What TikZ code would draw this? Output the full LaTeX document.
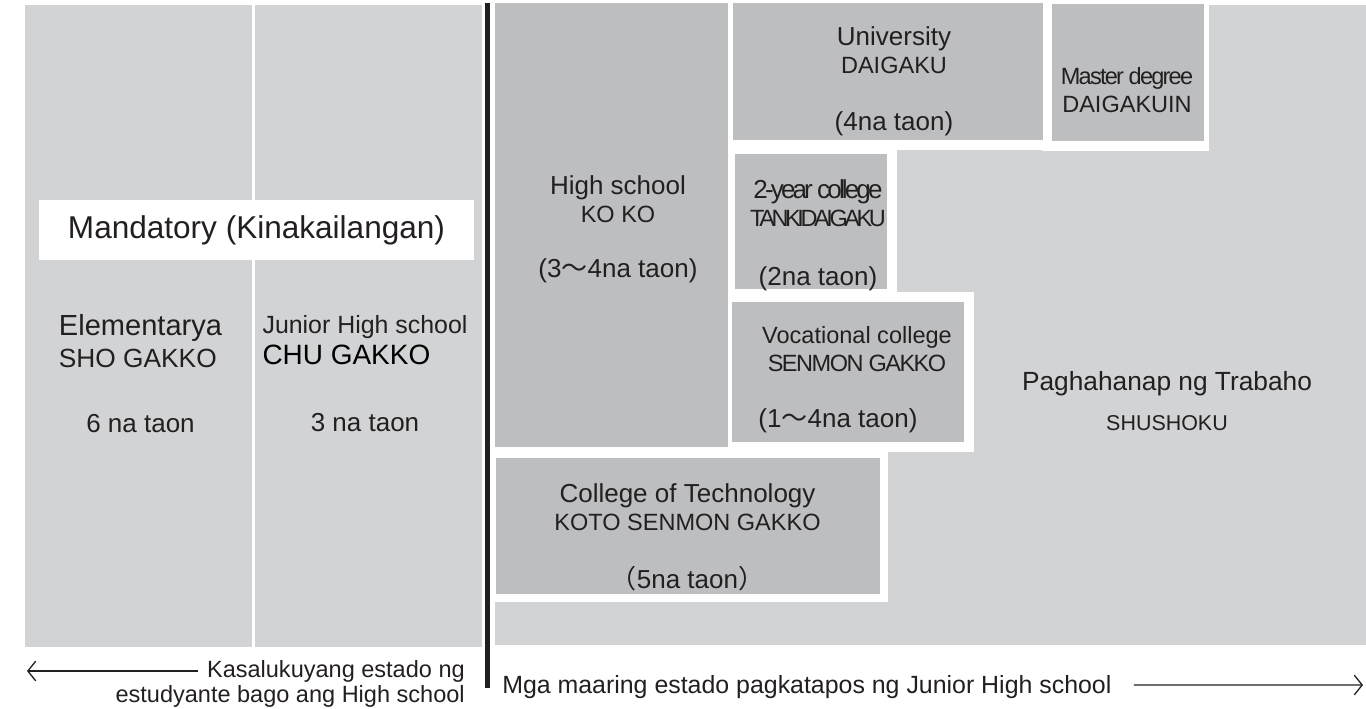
\documentclass[tikz,border=0pt]{standalone}
\usepackage{fontspec}
\setmainfont{Liberation Sans}
\newfontfamily\cjkfont{Noto Sans CJK JP}
\usepackage{tikz}
\usetikzlibrary{arrows.meta,backgrounds}
\tikzset{>={Straight Barb[length=2mm,width=5mm]}}

\definecolor{paleGray}{RGB}{209,211,212}
\definecolor{boxGray}{RGB}{188,190,192}
\definecolor{inkGray}{RGB}{35,31,32}

\newcommand{\fsz}[1]{\fontsize{#1}{20.2pt}\selectfont}
\newcommand{\tight}[1]{\addfontfeatures{LetterSpace=#1}}
\newcommand{\wave}{{\cjkfont ～}}

\tikzset{
  pane/.style={shape=rectangle,fill=paleGray,inner sep=0pt},
  stage/.style={shape=rectangle,fill=boxGray,inner sep=0pt},
  caption/.style={shape=rectangle,inner sep=0pt,align=center,text=inkGray,font=\fsz{18.8pt}},
}

\begin{document}
\begin{tikzpicture}
\useasboundingbox (0in,0in) rectangle (13.66in,-7.09in);

\path (1.385in,-3.26in) node (elem) [pane,minimum width=2.27in,minimum height=6.42in]{};

\path (3.685in,-3.26in) node (jhs) [pane,minimum width=2.27in,minimum height=6.42in]{};

\path (2.565in,-2.30in) node (mand) [shape=rectangle,fill=white,inner sep=0pt,minimum width=4.35in,minimum height=0.6in,text=inkGray,font=\fsz{22.8pt}]{Mandatory (Kinakailangan)};

\path (1.405in,-3.74in) node (elem-t) [caption]{{\fsz{21pt}Elementarya}\\[2.9pt]{\fsz{19pt}\rlap{SHO GAKKO}\phantom{\fsz{21pt}Elementarya}}\\[26.8pt]6 na taon};

\path (3.65in,-3.74in) node (jhs-t) [caption]{{\fsz{18pt}Junior High school}\\[2.2pt]{\fsz{20.2pt}\color{black}\rlap{CHU GAKKO}\phantom{\fsz{18pt}Junior High school}}\\[28.2pt]3 na taon};

\path (6.115in,-2.25in) node (hs) [stage,minimum width=2.33in,minimum height=4.44in]{};

\path (8.88in,-0.715in) node (univ) [stage,minimum width=3.10in,minimum height=1.37in]{};

\path (11.28in,-0.725in) node (grad) [stage,minimum width=1.52in,minimum height=1.37in]{};

\path (8.11in,-2.215in) node (tanki) [stage,minimum width=1.52in,minimum height=1.35in]{};

\path (8.48in,-3.72in) node (senmon) [stage,minimum width=2.32in,minimum height=1.40in]{};

\path (6.88in,-5.26in) node (kosen) [stage,minimum width=3.84in,minimum height=1.36in]{};

\begin{scope}[on background layer]
\path (9.305in,-3.25in) node (job) [pane,minimum width=8.71in,minimum height=6.40in]{};
\fill[white] ([shift={(-0.1in,-0.1in)}]hs.south west) rectangle ([shift={(0.1in,0.1in)}]hs.north east);
\fill[white] ([shift={(-0.1in,-0.1in)}]univ.south west) rectangle ([shift={(0.1in,0.1in)}]univ.north east);
\fill[white] ([shift={(-0.1in,-0.1in)}]grad.south west) rectangle ([shift={(0.05in,0.1in)}]grad.north east);
\fill[white] ([shift={(-0.1in,-0.1in)}]tanki.south west) rectangle ([shift={(0.1in,0.1in)}]tanki.north east);
\fill[white] ([shift={(-0.1in,-0.1in)}]senmon.south west) rectangle ([shift={(0.1in,0.1in)}]senmon.north east);
\fill[white] ([shift={(-0.1in,-0.08in)}]kosen.south west) rectangle ([shift={(0.08in,0.1in)}]kosen.north east);
\end{scope}

\path (6.18in,-2.29in) node (hs-t) [caption]{High school\\{\fsz{17pt}KO KO}\\[19.5pt](3\wave4na taon)};

\path (8.94in,-0.81in) node (univ-t) [caption]{University\\{\fsz{17pt}DAIGAKU}\\[21pt](4na taon)};

\path (11.27in,-0.905in) node (grad-t) [caption]{{\fsz{17pt}\tight{-7.5}Master degree}\\{\fsz{17pt}DAIGAKUIN}};

\path (8.18in,-2.355in) node (tanki-t) [caption]{{\tight{-11}2-year college}\\{\fsz{17pt}\tight{-14.5}TANKIDAIGAKU}\\[22.4pt](2na taon)};

\path (8.57in,-3.795in) node (senmon-t) [caption]{{\fsz{17pt}Vocational college}\\{\fsz{17pt}\tight{-6.4}SENMON GAKKO}\\[20.3pt](1\wave4na taon)\hspace*{0.38in}};

\path (6.875in,-5.37in) node (kosen-t) [caption]{College of Technology\\{\fsz{17pt}KOTO SENMON GAKKO}\\[21.7pt]{\cjkfont （}5na taon{\cjkfont ）}};

\path (11.67in,-4.01in) node (job-t) [caption]{{\fsz{19pt}Paghahanap ng Trabaho}\\[8.7pt]{\fsz{15.5pt}SHUSHOKU}};

\draw[line width=0.05in,inkGray] (4.875in,-0.03in) -- (4.875in,-6.88in);

\path (4.65in,-6.71in) node (now-a) [caption,anchor=east,font=\fsz{17pt}]{Kasalukuyang estado ng};

\path (4.65in,-6.96in) node (now-b) [caption,anchor=east,font=\fsz{17pt}]{estudyante bago ang High school};

\path (5.02in,-6.87in) node (next) [caption,anchor=west,font=\fsz{18pt}]{Mga maaring estado pagkatapos ng Junior High school};

\coordinate (past-end) at (0.27in,-6.71in);
\coordinate (future-end) at (13.63in,-6.85in);

\draw[->,line width=0.013in,inkGray] ([xshift=-0.09in]now-a.west) -- (past-end);
\draw[->,line width=0.013in,inkGray] ([shift={(0.22in,0.02in)}]next.east) -- (future-end);

\end{tikzpicture}
\end{document}
